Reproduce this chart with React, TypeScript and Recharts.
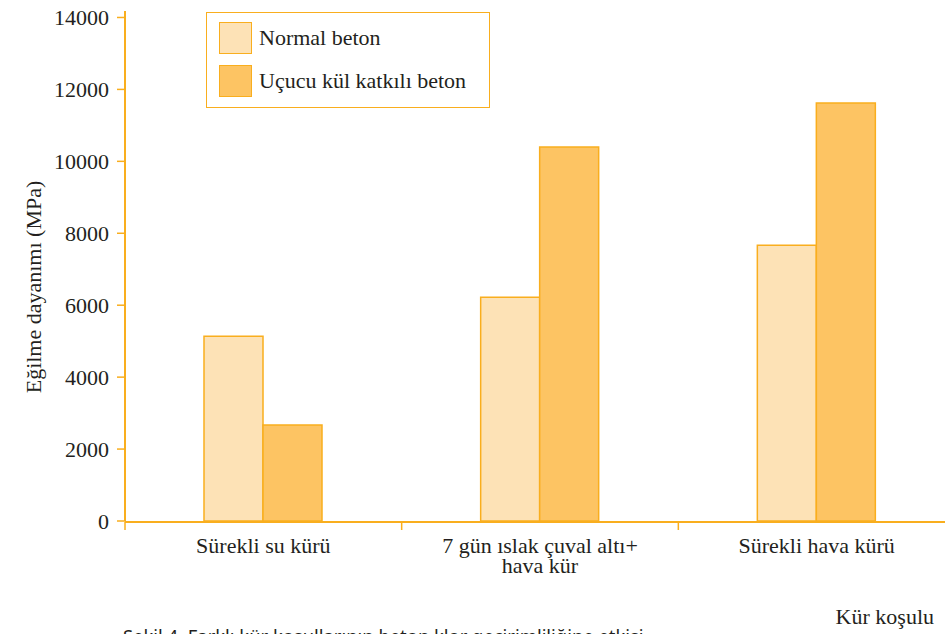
import React from 'react';
import { BarChart, Bar, XAxis, YAxis, Legend, Label } from 'recharts';

const categories = ['Sürekli su kürü', '7 gün ıslak çuval altı+\nhava kür', 'Sürekli hava kürü'];
const normalBeton = [5140, 6220, 7670];
const ucucuKulBeton = [2670, 10400, 11620];
const seriesNames = ['Normal beton', 'Uçucu kül katkılı beton'];
const yTicks = [0, 2000, 4000, 6000, 8000, 10000, 12000, 14000];
const boundaryTicks = [0, 1, 2, 3];
const yAxisTitle = 'Eğilme dayanımı (MPa)';
const xAxisTitle = 'Kür koşulu';
const caption = 'Şekil 4. Farklı kür koşullarının beton klor geçirimliliğine etkisi';

const ORANGE = '#F9AE1E';
const FILLS = ['#FDE2B6', '#FDC463'];
const TEXT = '#231F20';
const SERIF = '"Liberation Serif", "DejaVu Serif", serif';

const data = categories.map((c, i) => ({
  name: c,
  idx: i + 0.5,
  normal: normalBeton[i],
  ucucu: ucucuKulBeton[i],
}));

const CatTick = (props: any) => {
  const { x, y, payload } = props;
  const lines = String(payload.value).split('\n');
  return (
    <text x={x} y={y} textAnchor="middle" fill={TEXT} fontSize={22} fontFamily={SERIF}>
      {lines.map((l, i) => (
        <tspan key={i} x={x} dy={i === 0 ? 32 : 20}>
          {l}
        </tspan>
      ))}
    </text>
  );
};

const EmptyTick = () => <g />;

const renderLegend = () => (
  <div
    style={{
      width: 284,
      height: 96,
      border: `1.5px solid ${ORANGE}`,
      boxSizing: 'border-box',
      background: '#fff',
      fontFamily: SERIF,
      fontSize: 22,
      color: TEXT,
      position: 'relative',
    }}
  >
    {seriesNames.map((n, i) => (
      <div
        key={n}
        style={{
          position: 'absolute',
          left: 12,
          top: 9 + 43 * i,
          display: 'flex',
          alignItems: 'center',
          height: 32,
          whiteSpace: 'nowrap',
        }}
      >
        <div
          style={{
            width: 33,
            height: 32,
            boxSizing: 'border-box',
            background: FILLS[i],
            border: `1.5px solid ${ORANGE}`,
          }}
        />
        <span style={{ marginLeft: 7 }}>{n}</span>
      </div>
    ))}
  </div>
);

export default function App() {
  return (
    <div
      style={{
        position: 'absolute',
        left: 0,
        top: 0,
        width: 945,
        height: 634,
        overflow: 'hidden',
        background: '#fff',
      }}
    >
      <BarChart
        width={960}
        height={634}
        data={data}
        margin={{ top: 11, right: 5, left: 0, bottom: 53 }}
        barGap={0}
      >
        <XAxis
          xAxisId="num"
          type="number"
          dataKey="idx"
          domain={[0, 3]}
          ticks={boundaryTicks}
          tick={<EmptyTick />}
          height={59}
          axisLine={{ stroke: ORANGE, strokeWidth: 2 }}
          tickLine={{ stroke: ORANGE, strokeWidth: 1.5 }}
          tickSize={8}
          allowDataOverflow
        />
        <XAxis
          xAxisId="cat"
          dataKey="name"
          height={1}
          axisLine={false}
          tickLine={false}
          tickSize={0}
          tickMargin={0}
          tick={<CatTick />}
          interval={0}
        />
        <YAxis
          domain={[0, 14180]}
          ticks={yTicks}
          width={125}
          axisLine={{ stroke: ORANGE, strokeWidth: 2 }}
          tickLine={{ stroke: ORANGE, strokeWidth: 1.5 }}
          tickSize={8}
          tickMargin={8}
          tick={{ fill: TEXT, fontSize: 22, fontFamily: SERIF }}
          allowDataOverflow
        >
          <Label
            content={() => (
              <text
                x={33}
                y={287}
                transform="rotate(-90 33 287)"
                textAnchor="middle"
                dominantBaseline="central"
                fill={TEXT}
                fontSize={22}
                fontFamily={SERIF}
              >
                {yAxisTitle}
              </text>
            )}
          />
        </YAxis>
        <Legend
          layout="vertical"
          align="center"
          verticalAlign="middle"
          content={renderLegend}
          wrapperStyle={{ position: 'absolute', left: 206, top: 12, width: 284, height: 96 }}
        />
        <Bar
          xAxisId="cat"
          dataKey="normal"
          name={seriesNames[0]}
          fill={FILLS[0]}
          stroke={ORANGE}
          strokeWidth={1.5}
          barSize={59}
          isAnimationActive={false}
        />
        <Bar
          xAxisId="cat"
          dataKey="ucucu"
          name={seriesNames[1]}
          fill={FILLS[1]}
          stroke={ORANGE}
          strokeWidth={1.5}
          barSize={59}
          isAnimationActive={false}
        />
      </BarChart>
      <div
        style={{
          position: 'absolute',
          right: 11,
          top: 604,
          fontFamily: SERIF,
          fontSize: 22,
          color: TEXT,
          whiteSpace: 'nowrap',
        }}
      >
        {xAxisTitle}
      </div>
      <div
        style={{
          position: 'absolute',
          left: 123,
          top: 623,
          fontFamily: '"Noto Sans", sans-serif',
          fontSize: 18.4,
          color: TEXT,
          whiteSpace: 'nowrap',
        }}
      >
        {caption}
      </div>
    </div>
  );
}
